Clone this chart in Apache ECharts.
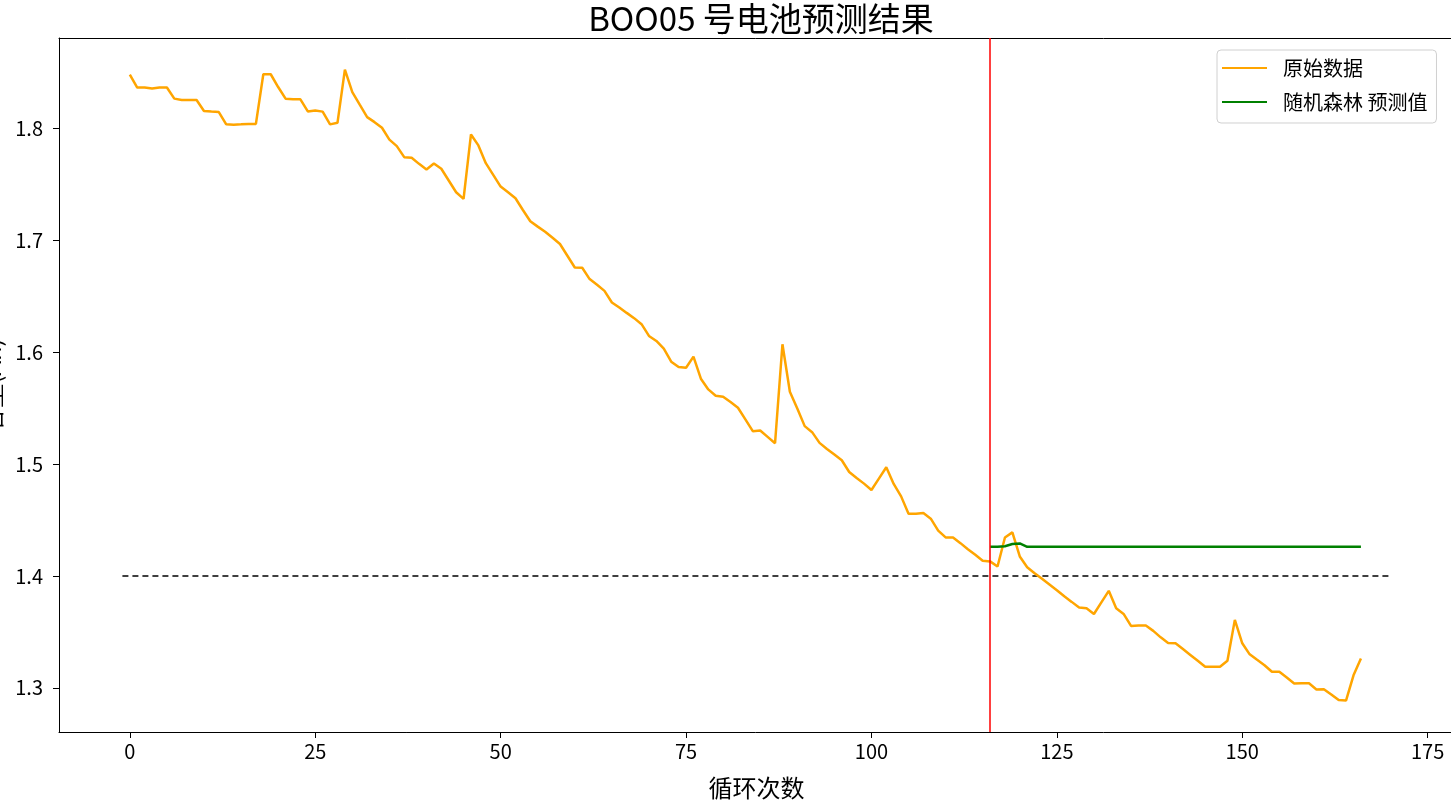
<!DOCTYPE html>
<html>
<head>
<meta charset="utf-8">
<script src="https://cdn.jsdelivr.net/npm/echarts@6/dist/echarts.min.js"></script>
<style>html,body{margin:0;padding:0;background:#fff;}#c{width:1451px;height:812px;}</style>
</head>
<body>
<div id="c"></div>
<script>
const titleText = 'BOO05 号电池预测结果';
const xName = '循环次数';
const yName = '容量(Ah)';
const seriesNames = ['原始数据', '随机森林 预测值'];
const xTicks = [0, 25, 50, 75, 100, 125, 150, 175];
const yTicks = [1.3, 1.4, 1.5, 1.6, 1.7, 1.8];

const originalValues = [
1.848, 1.8365, 1.8365, 1.8356, 1.8365, 1.8365, 1.8266, 1.8254, 1.8254, 1.8254,
1.8155, 1.815, 1.8146, 1.8036, 1.8033, 1.8036, 1.804, 1.804, 1.8484, 1.8484,
1.837, 1.8266, 1.826, 1.826, 1.8152, 1.816, 1.815, 1.8036, 1.805, 1.8526,
1.8325, 1.8212, 1.8101, 1.8056, 1.8006, 1.790, 1.7842, 1.7743, 1.7737, 1.7683,
1.7633, 1.7686, 1.7639, 1.7534, 1.7429, 1.737, 1.7946, 1.7848, 1.7689, 1.7585,
1.748, 1.7429, 1.7376, 1.7271, 1.717, 1.7122, 1.7077, 1.7023, 1.6967, 1.6862,
1.6757, 1.6754, 1.6653, 1.6602, 1.6548, 1.6444, 1.6399, 1.6351, 1.6304, 1.625,
1.6145, 1.61, 1.6031, 1.5915, 1.5867, 1.5861, 1.596, 1.5763, 1.5667, 1.561,
1.5601, 1.5554, 1.5503, 1.5399, 1.5294, 1.53, 1.5243, 1.5186, 1.6071, 1.5646,
1.5497, 1.5339, 1.5285, 1.5189, 1.5135, 1.5085, 1.5034, 1.4929, 1.4875, 1.4825,
1.4768, 1.487, 1.4971, 1.4822, 1.4711, 1.4556, 1.4556, 1.4562, 1.4512, 1.4405,
1.4344, 1.4344, 1.4293, 1.4239, 1.4189, 1.4135, 1.413, 1.4084, 1.4344, 1.4389,
1.4174, 1.4078, 1.4024, 1.3974, 1.3923, 1.3872, 1.3818, 1.3768, 1.3717, 1.3711,
1.366, 1.3764, 1.3867, 1.3711, 1.366, 1.3553, 1.3556, 1.3556, 1.3509, 1.3451,
1.3401, 1.3399, 1.3347, 1.3294, 1.3241, 1.3188, 1.3188, 1.3188, 1.3242, 1.3607,
1.3398, 1.3299, 1.325, 1.3202, 1.3143, 1.3143, 1.3092, 1.3039, 1.304, 1.304,
1.2985, 1.2988, 1.294, 1.289, 1.2887, 1.3112, 1.3262
];

const predStartCycle = 116;
const predictedValues = [
1.426, 1.426, 1.4265, 1.4285, 1.429,
1.426, 1.426, 1.426, 1.426, 1.426, 1.426, 1.426, 1.426, 1.426, 1.426,
1.426, 1.426, 1.426, 1.426, 1.426, 1.426, 1.426, 1.426, 1.426, 1.426,
1.426, 1.426, 1.426, 1.426, 1.426, 1.426, 1.426, 1.426, 1.426, 1.426,
1.426, 1.426, 1.426, 1.426, 1.426, 1.426, 1.426, 1.426, 1.426, 1.426,
1.426, 1.426, 1.426, 1.426, 1.426, 1.426
];

const thresholdValue = 1.4;
const thresholdRange = [-1, 170];
const splitCycle = 116;

const FONT = '"Noto Sans CJK SC", "Noto Sans", sans-serif';

const origData = originalValues.map((v, i) => [i, v]);
const predData = predictedValues.map((v, i) => [predStartCycle + i, v]);
const threshData = thresholdRange.map(x => [x, thresholdValue]);

const X_MIN = -9.55, X_MAX = 178.55;

const chart = echarts.init(document.getElementById('c'));
chart.setOption({
  animation: false,
  backgroundColor: '#fff',
  textStyle: { fontFamily: FONT },
  title: {
    text: titleText,
    left: 756, textAlign: 'center',
    top: -3,
    textStyle: { fontFamily: FONT, fontSize: 33, fontWeight: 'normal', color: '#000' }
  },
  grid: {
    left: 59, top: 38, width: 1395, height: 694,
    containLabel: false, outerBoundsMode: 'none',
    show: false
  },
  legend: {
    data: seriesNames,
    orient: 'vertical',
    left: 1217, top: 50,
    padding: [8, 9, 11, 5],
    itemGap: 14,
    icon: 'rect',
    itemWidth: 45, itemHeight: 2,
    borderColor: '#d0d0d0', borderWidth: 1, borderRadius: 4,
    backgroundColor: 'rgba(255,255,255,0.8)',
    textStyle: { fontFamily: FONT, fontSize: 20, color: '#000', padding: [0, 0, 0, 11] }
  },
  xAxis: [{
    type: 'value', position: 'bottom',
    min: X_MIN, max: X_MAX,
    name: xName, nameLocation: 'middle', nameGap: 44,
    nameTextStyle: { fontFamily: FONT, fontSize: 24, color: '#000' },
    axisLine: { show: true, onZero: false, lineStyle: { color: '#000', width: 1 } },
    axisTick: { show: true, length: 6, customValues: xTicks, lineStyle: { color: '#000' } },
    axisLabel: { customValues: xTicks, margin: 9, fontFamily: FONT, fontSize: 20, color: '#000' },
    splitLine: { show: false }
  }, {
    type: 'value', position: 'top',
    min: X_MIN, max: X_MAX,
    axisLine: { show: true, onZero: false, lineStyle: { color: '#000', width: 1 } },
    axisTick: { show: false }, axisLabel: { show: false }, splitLine: { show: false }
  }],
  yAxis: {
    type: 'value',
    min: 1.2605, max: 1.8808,
    name: yName, nameLocation: 'middle', nameGap: 53, nameRotate: 90,
    nameTextStyle: { fontFamily: FONT, fontSize: 24, color: '#000' },
    axisLine: { show: true, onZero: false, lineStyle: { color: '#000', width: 1 } },
    axisTick: { show: true, length: 6, customValues: yTicks, lineStyle: { color: '#000' } },
    axisLabel: { customValues: yTicks, margin: 16, fontFamily: FONT, fontSize: 20, color: '#000',
      formatter: v => v.toFixed(1) },
    splitLine: { show: false }
  },
  series: [
    {
      name: seriesNames[0], type: 'line', data: origData,
      symbol: 'none', color: '#FFA500',
      lineStyle: { color: '#FFA500', width: 2.5 }, z: 2,
      markLine: {
        silent: true, symbol: ['none', 'none'],
        label: { show: false },
        lineStyle: { color: '#FF0000', width: 1.5, type: 'solid' },
        data: [{ xAxis: splitCycle }]
      }
    },
    {
      name: seriesNames[1], type: 'line', data: predData,
      symbol: 'none', color: '#008000',
      lineStyle: { color: '#008000', width: 2.5 }, z: 3
    },
    {
      name: 'threshold', type: 'line', data: threshData,
      symbol: 'none', color: '#000',
      lineStyle: { color: '#000', width: 1.5, type: [6, 4] }, z: 1
    }
  ]
});
</script>
</body>
</html>
